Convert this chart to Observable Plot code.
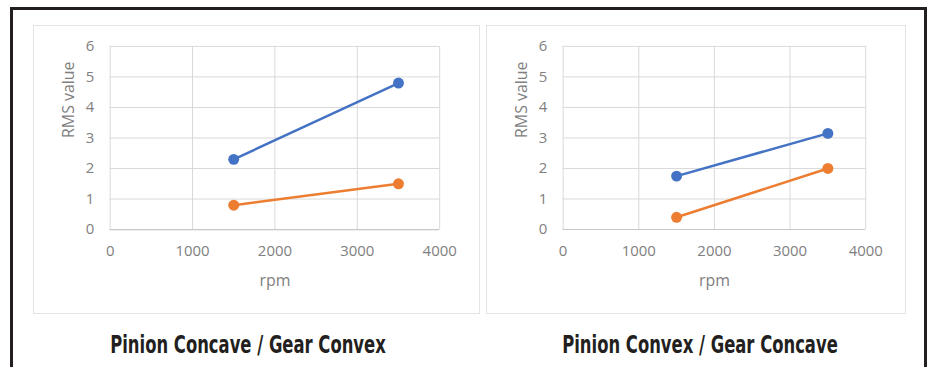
<!DOCTYPE html>
<html>
<head>
<meta charset="utf-8">
<script src="https://cdn.jsdelivr.net/npm/d3@7"></script>
<script src="https://cdn.jsdelivr.net/npm/@observablehq/plot@0.6"></script>
<style>
  html, body { margin: 0; padding: 0; background: #fff; }
  #root { position: relative; width: 935px; height: 367px; overflow: hidden; background: #fff; }
  #frame { position: absolute; left: 10px; top: 7px; width: 917px; height: 400px; border: 3px solid #231f20; box-sizing: border-box; }
  .panel { position: absolute; top: 25px; height: 289px; border: 1px solid #e3e3e3; box-sizing: border-box; background: #fff; }
  .panel svg { position: absolute; left: -1px; top: -1px; }
  .panel svg g[aria-label="x-axis tick label"], .panel svg g[aria-label="y-axis tick label"] { font-size: 15px; }
  .title { position: absolute; top: 331px; font-family: "Liberation Sans Narrow", "DejaVu Sans Condensed", sans-serif; font-stretch: condensed; font-weight: bold; font-size: 24px; color: #231f20; white-space: nowrap; transform: translateX(-50%) scaleX(0.76); }
</style>
</head>
<body>
<div id="root">
  <div id="frame"></div>
  <div class="panel" id="p1" style="left:33px; width:447px;"></div>
  <div class="panel" id="p2" style="left:486px; width:420px;"></div>
  <div class="title" id="t1" style="left:248px;"></div>
  <div class="title" id="t2" style="left:700px;"></div>
</div>
<script>
// ---- data ----
const rpm = [1500, 3500];
const leftSeriesA = [2.3, 4.8];
const leftSeriesB = [0.8, 1.5];
const rightSeriesA = [1.75, 3.15];
const rightSeriesB = [0.4, 2.0];
const seriesNames = ["Series A", "Series B"];
const xTicks = [0, 1000, 2000, 3000, 4000];
const yTicks = [0, 1, 2, 3, 4, 5, 6];
const xLabel = "rpm";
const yLabel = "RMS value";
const titles = ["Pinion Concave / Gear Convex", "Pinion Convex / Gear Concave"];

// ---- styles ----
const seriesColors = ["#4472c4", "#ed7d31"];
const tickColor = "#808080";
const font = "'Open Sans', sans-serif";

function rows(a, b) {
  const out = [];
  rpm.forEach((r, i) => out.push({rpm: r, value: a[i], series: seriesNames[0]}));
  rpm.forEach((r, i) => out.push({rpm: r, value: b[i], series: seriesNames[1]}));
  return out;
}

function chart(data, width) {
  return Plot.plot({
    width: width,
    height: 289,
    marginLeft: 77,
    marginRight: 39,
    marginTop: 21,
    marginBottom: 84,
    style: {fontFamily: font, fontSize: "14px", color: tickColor, background: "transparent"},
    x: {domain: [0, 4000]},
    y: {domain: [0, 6]},
    color: {domain: seriesNames, range: seriesColors},
    marks: [
      Plot.gridX(xTicks, {stroke: "#d9d9d9", strokeOpacity: 1}),
      Plot.gridY(yTicks, {stroke: "#d9d9d9", strokeOpacity: 1}),
      Plot.ruleY([0], {stroke: "#c8c8c8", strokeWidth: 1.2}),
      Plot.axisX(xTicks, {tickSize: 0, tickPadding: 16, tickFormat: d => String(d), label: null, fill: tickColor}),
      Plot.axisY(yTicks, {tickSize: 0, tickPadding: 16, tickFormat: d => String(d), label: null, fill: tickColor}),
      Plot.text([xLabel], {frameAnchor: "bottom", dy: 57, fill: tickColor, fontSize: 16}),
      Plot.text([yLabel], {frameAnchor: "left", rotate: -90, dx: -41, fill: tickColor, fontSize: 16}),
      Plot.line(data, {x: "rpm", y: "value", z: "series", stroke: "series", strokeWidth: 2.5}),
      Plot.dot(data, {x: "rpm", y: "value", fill: "series", r: 5.5})
    ]
  });
}

document.getElementById("p1").appendChild(chart(rows(leftSeriesA, leftSeriesB), 447));
document.getElementById("p2").appendChild(chart(rows(rightSeriesA, rightSeriesB), 420));
document.getElementById("t1").textContent = titles[0];
document.getElementById("t2").textContent = titles[1];
</script>
</body>
</html>
